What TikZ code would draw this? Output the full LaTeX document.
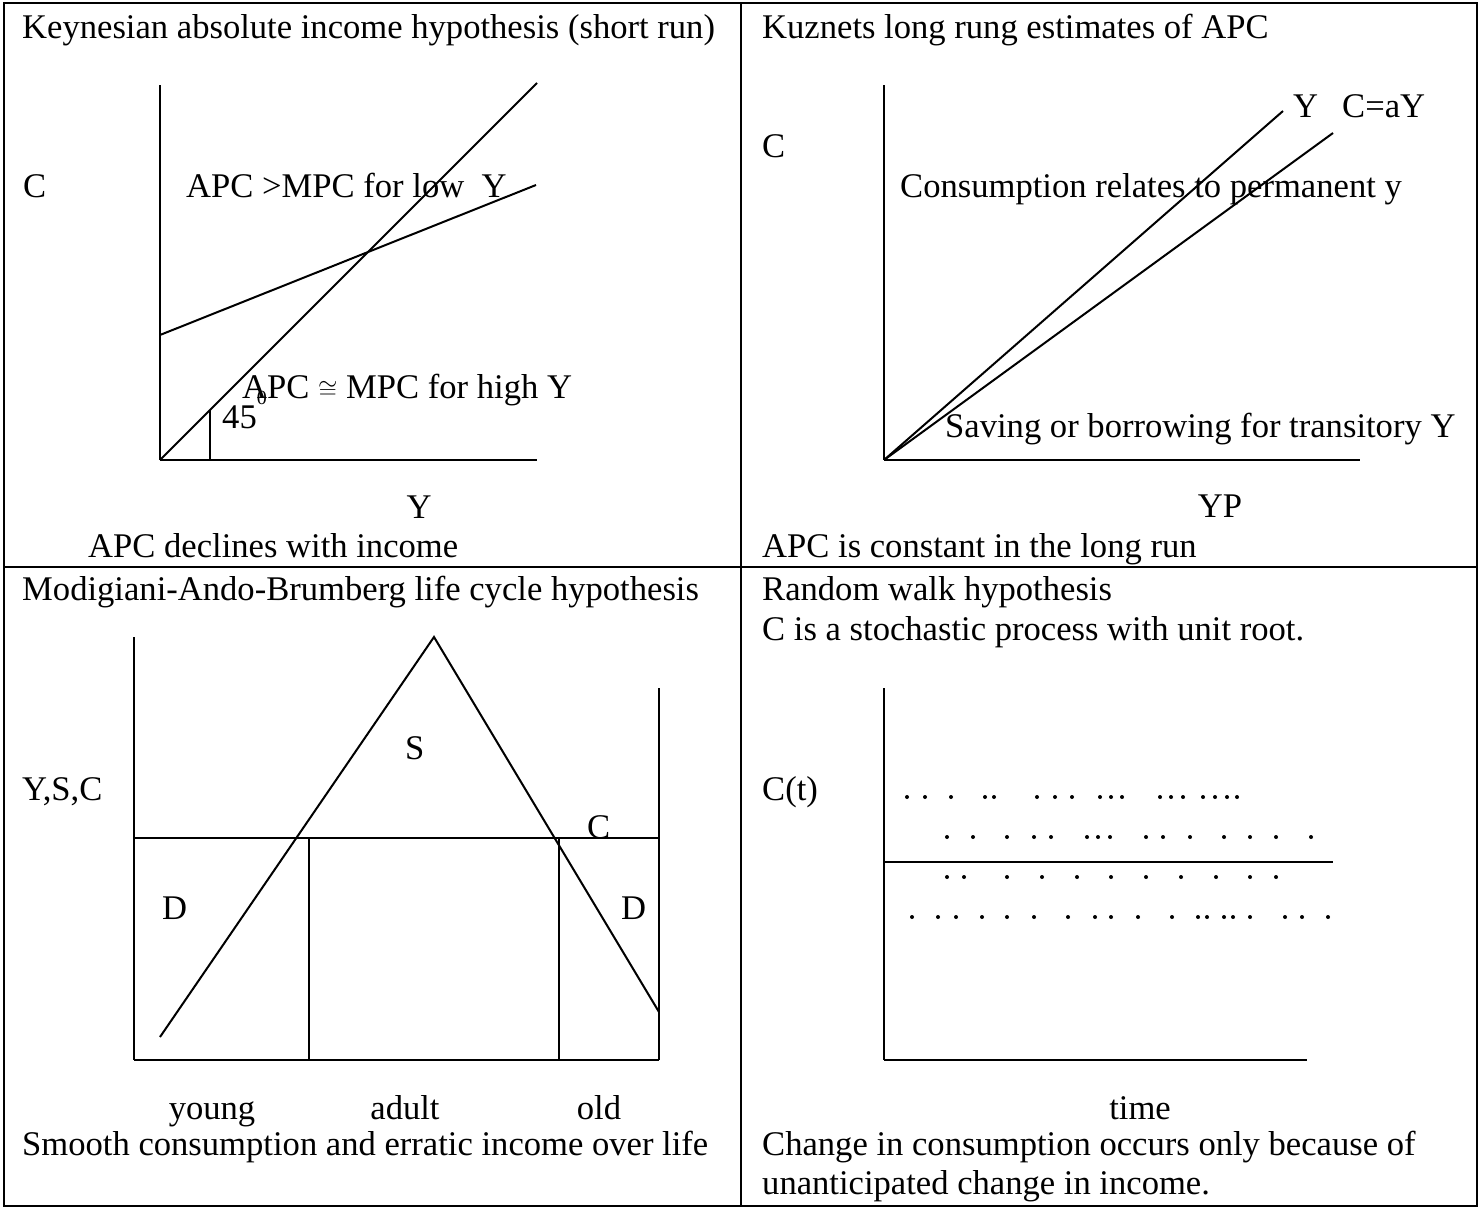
\documentclass[tikz,border=0pt]{standalone}
\usepackage{fontspec}
\setmainfont{Liberation Serif}
\usetikzlibrary{calc}

\begin{document}
\begin{tikzpicture}[x=1pt, y=-1pt,
    txt/.style={anchor=base west, inner sep=0pt, font=\fontsize{34.6}{40}\selectfont},
    txtc/.style={txt, anchor=base},
    axis/.style={line width=2.4pt},
    curve/.style={line width=2pt},
    frame/.style={line width=2pt}]

    \useasboundingbox (0,0) rectangle (1478,1208);

	% table
	\draw[frame] (4,3) rectangle (1477,1206);
	\draw[frame] (741,3) -- (741,1206);
	\draw[frame] (4,567) -- (1477,567);

	% Keynes
	\coordinate (k0) at (160,460);
	\draw[curve] (160,85) -- (k0);
	\draw[axis] (k0) -- (537,460);
	\draw[curve] (k0) -- (537,83);
	\draw[curve] (160,335) -- (536,185);
	\draw[curve] (210,460) -- (210,410);
	\node[txt] (ktitle) at (22,38) {Keynesian absolute income hypothesis (short run)};
	\node[txt] (kc) at (23,197) {C};
	\node[txt] (klow) at (186,197) {APC >MPC for low\ \ Y};
	\node[txt] (khigh) at (242,398) {APC $\cong$ MPC for high Y};
	\node[txt] (kdeg) at (222,428) {45\raisebox{24pt}{\fontsize{20}{20}\selectfont 0}};
	\node[txtc] (ky) at (419,518) {Y};
	\node[txt] (knote) at (88,557) {APC declines with income};

	% Kuznets
	\coordinate (p0) at (884,460);
	\draw[curve] (884,85) -- (p0);
	\draw[axis] (p0) -- (1360,460);
	\draw[curve] (p0) -- (1283,111);
	\draw[curve] (p0) -- (1333,133);
	\node[txt] (ptitle) at (762,38) {Kuznets long rung estimates of APC};
	\node[txt] (pc) at (762,157) {C};
	\node[txt] (py) at (1293,117) {Y};
	\node[txt] (pcay) at (1342,117) {C=aY};
	\node[txt] (pperm) at (900,197) {Consumption relates to permanent y};
	\node[txt] (ptrans) at (945,437) {Saving or borrowing for transitory Y};
	\node[txtc] (pyp) at (1220,517) {YP};
	\node[txt] (pnote) at (762,557) {APC is constant in the long run};

	% life cycle
	\coordinate (m0) at (134,1060);
	\draw[curve] (134,637) -- (m0);
	\draw[axis] (m0) -- (659,1060);
	\draw[curve] (659,1060) -- (659,688);
	\draw[curve] (134,838) -- (659,838);
	\draw[curve] (309,838) -- (309,1060);
	\draw[curve] (559,838) -- (559,1060);
	\draw[curve] (160,1037) -- (434,637) -- (659,1012);
	\node[txt] (mtitle) at (22,600) {Modigiani-Ando-Brumberg life cycle hypothesis};
	\node[txt] (mysc) at (22,800) {Y,S,C};
	\node[txt] (ms) at (405,759) {S};
	\node[txt] (mc) at (587,838) {C};
	\node[txt] (md1) at (162,919) {D};
	\node[txt] (md2) at (621,919) {D};
	\node[txtc] (myoung) at (212,1119) {young};
	\node[txtc] (madult) at (405,1119) {adult};
	\node[txtc] (mold) at (599,1119) {old};
	\node[txt] (mnote) at (22,1155) {Smooth consumption and erratic income over life};

	% random walk
	\coordinate (r0) at (884,1060);
	\draw[curve] (884,688) -- (r0);
	\draw[axis] (r0) -- (1307,1060);
	\draw[axis] (884,862) -- (1333,862);
	\foreach \x in {907,925,951,985,994,1037,1055,1072,1100,1111,1122,1160,1171,1183,1203,1215,1227,1237}
		\fill (\x,797) circle (2);
	\foreach \x in {947,973,1007,1034,1051,1087,1098,1110,1146,1163,1190,1224,1250,1276,1311}
		\fill (\x,837) circle (2);
	\foreach \x in {947,964,1007,1042,1077,1111,1146,1181,1216,1250,1276}
		\fill (\x,877) circle (2);
	\foreach \x in {912,938,956,982,1007,1034,1068,1095,1111,1138,1172,1198,1207,1224,1233,1250,1285,1302,1328}
		\fill (\x,917) circle (2);
	\node[txt] (rtitle) at (762,600) {Random walk hypothesis};
	\node[txt] (rsub) at (762,640) {C is a stochastic process with unit root.};
	\node[txt] (rct) at (762,800) {C(t)};
	\node[txtc] (rtime) at (1140,1119) {time};
	\node[txt] (rnote1) at (762,1155) {Change in consumption occurs only because of};
	\node[txt] (rnote2) at (762,1194) {unanticipated change in income.};

\end{tikzpicture}
\end{document}
